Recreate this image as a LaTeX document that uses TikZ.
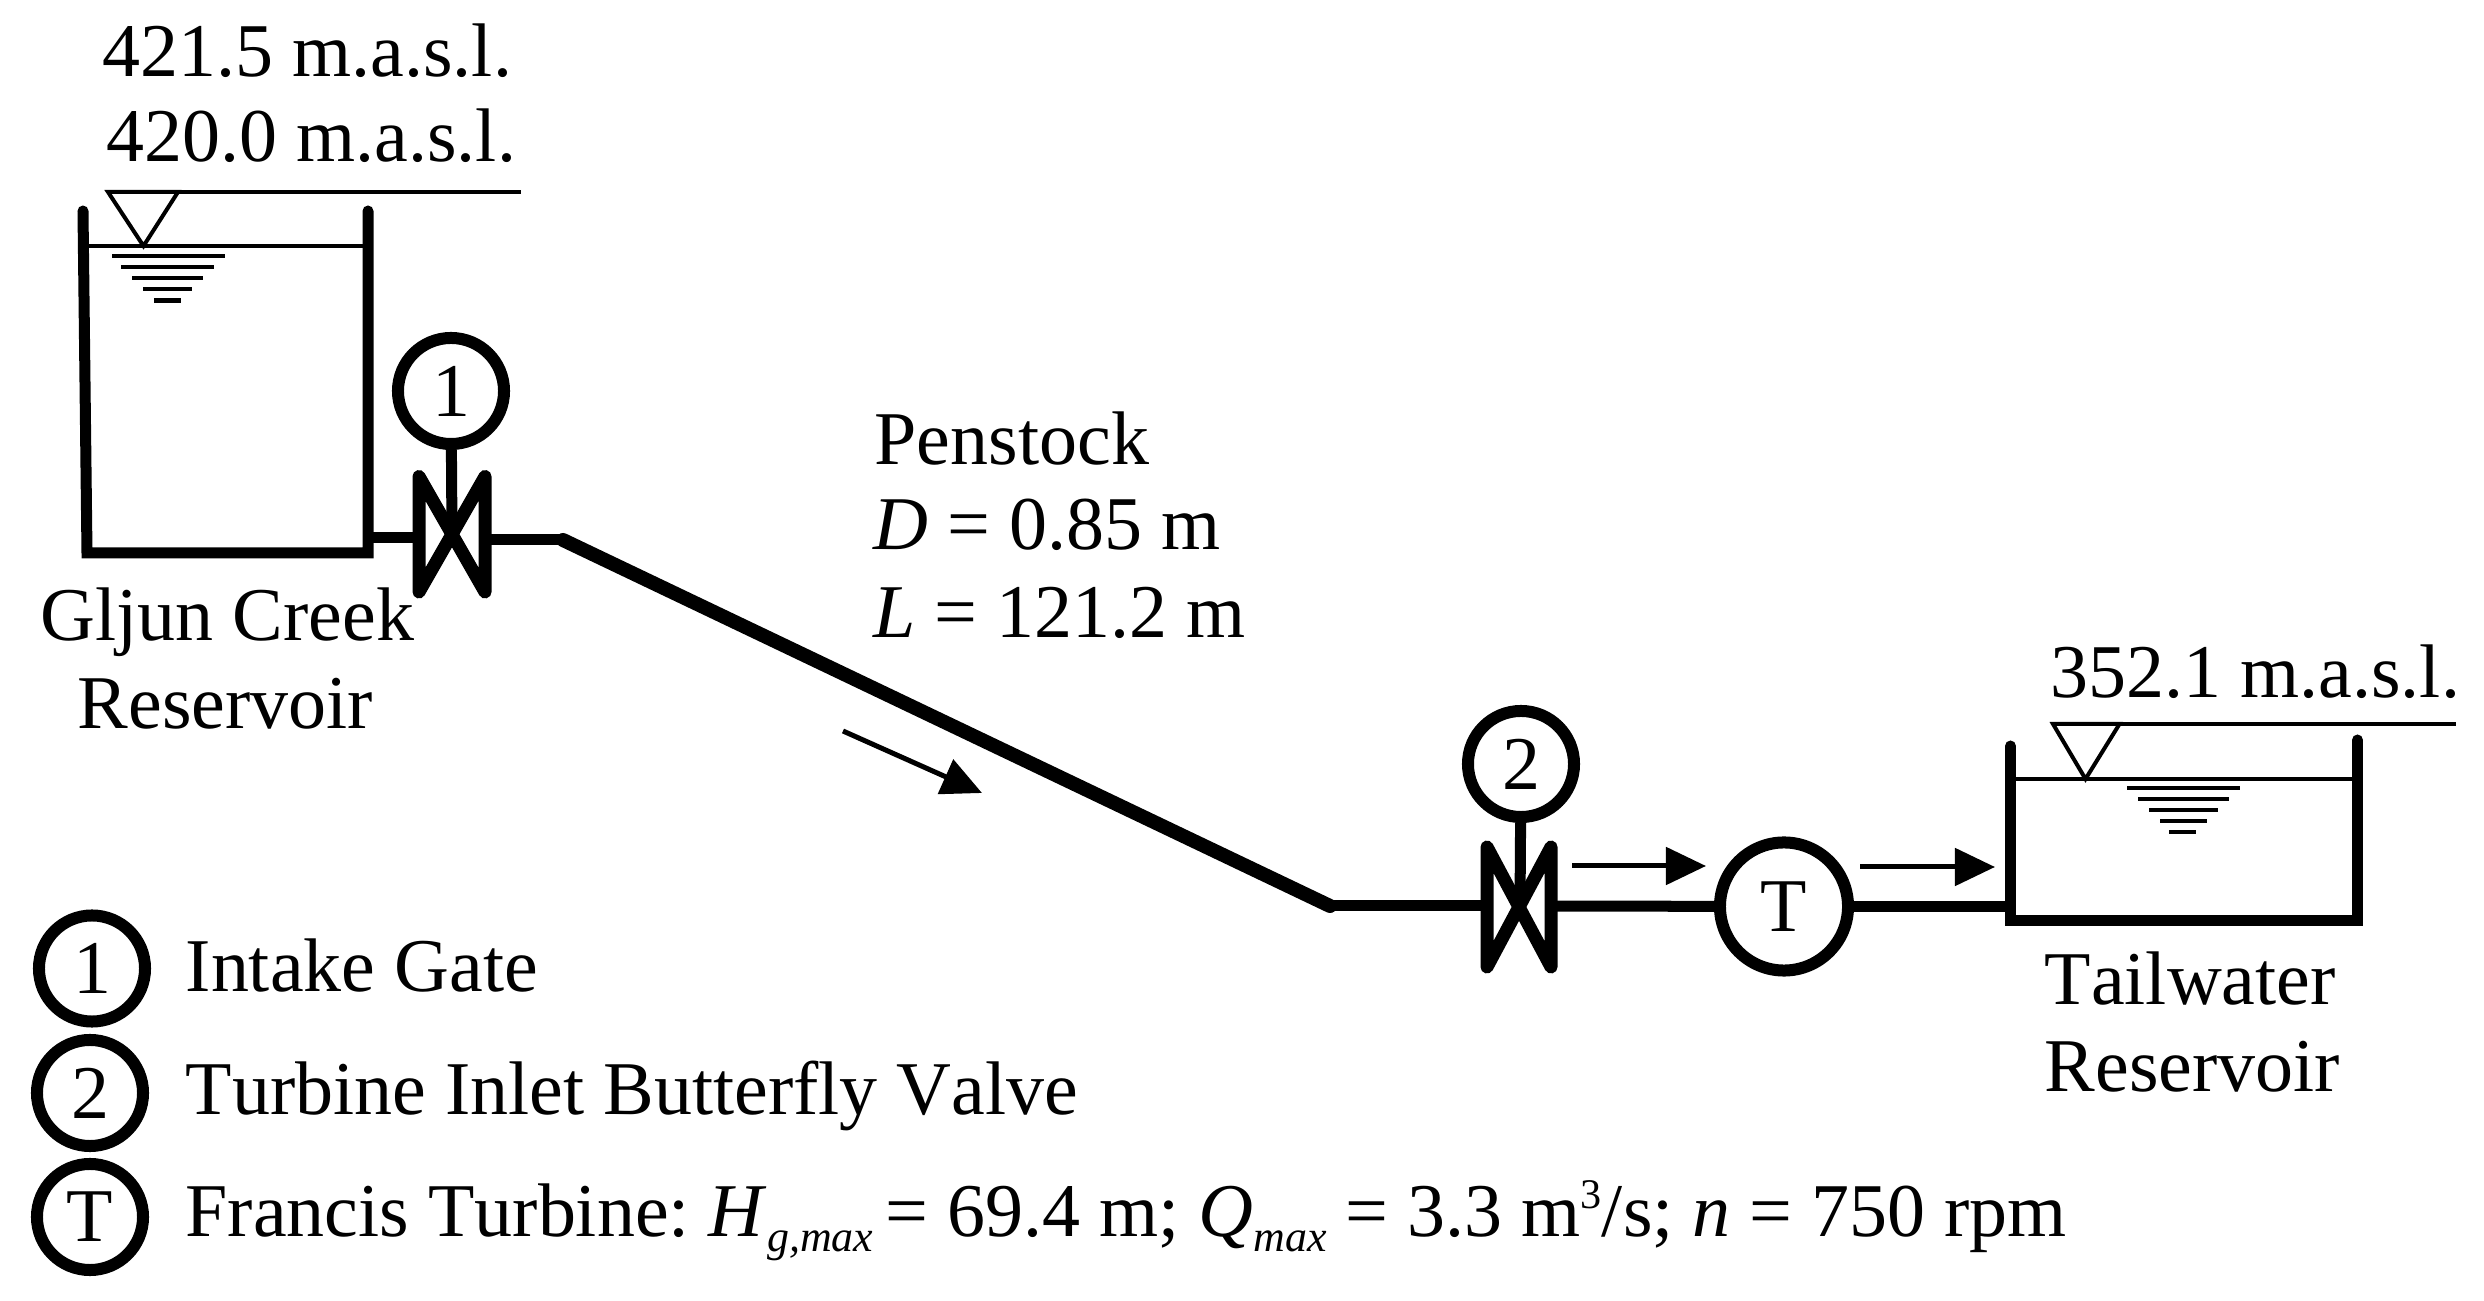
\documentclass[tikz,border=0pt]{standalone}
\usepackage{fontspec}
\setmainfont[Kerning=Off]{Liberation Serif}
\usetikzlibrary{arrows.meta}
\newcommand{\lowtext}[1]{\raisebox{-4pt}{\fontsize{12.5}{14}\selectfont\textit{#1}}}
\newcommand{\hightext}[1]{\raisebox{8pt}{\fontsize{12}{14}\selectfont #1}}
\begin{document}
\begin{tikzpicture}[x=0.01cm, y=-0.01cm,
  wall/.style={line width=0.11cm, line cap=round, line join=miter},
  pipe/.style={line width=0.11cm},
  slope/.style={line width=0.14cm, line cap=round},
  bowtie/.style={line width=0.13cm, line join=round},
  level/.style={line width=0.04cm},
  ripple/.style={line width=0.045cm},
  flow/.style={line width=0.05cm, -{Triangle[length=0.4cm, width=0.37cm]}},
  marker/.style={circle, draw, line width=0.12cm, minimum size=1.06cm,
    inner sep=0pt, font=\fontsize{21.6}{26}\selectfont},
  lbl/.style={anchor=base west, inner sep=0pt, font=\fontsize{21.6}{26}\selectfont}]
\useasboundingbox (0, 0) rectangle (2484, 1301);

\node[lbl] (crest) at (102, 77) {421.5 m.a.s.l.};
\node[lbl] (upper) at (106, 162) {420.0 m.a.s.l.};
\draw[level] (108, 192) -- (143.5, 246) -- (178, 192) -- cycle;
\draw[level] (108, 192) -- (521, 192);
\draw[level] (85, 246) -- (368, 246);
\foreach \y/\a/\b in {256/112/225, 267/121/214, 278/132/203,
  289/143/192, 300.5/154/181} {
  \draw[ripple] (\a, \y) -- (\b, \y);
}
\draw[wall] (83, 211) -- (87, 553) -- (368, 553) -- (368, 211);
\node[lbl] (gljun) at (40, 641) {Gljun Creek};
\node[lbl] (gljunres) at (77, 729) {Reservoir};

\node[marker] (gate) at (451, 391) {1};
\coordinate (gatecross) at (452, 534);
\coordinate (gateleft) at (419, 538);
\coordinate (gateright) at (485, 540);
\coordinate (bendtop) at (563, 540);
\coordinate (bendlow) at (1330, 906);
\draw[pipe] (gate) -- (gatecross);
\draw[bowtie] (419, 476.5) -- (485, 592) -- (485, 476.5) -- (419, 592) -- cycle;
\draw[pipe] (368, 538) -- (gateleft);
\draw[pipe] (gateright) -- (bendtop);
\draw[slope] (bendtop) -- (bendlow);
\draw[pipe] (1328, 906) -- (1487, 906);

\node[lbl] (penstock) at (874, 465) {Penstock};
\node[lbl] (diam) at (873, 550) {\textit{D} = 0.85 m};
\node[lbl] (len) at (873, 638) {\textit{L} = 121.2 m};
\coordinate (downa) at (843, 731);
\coordinate (downb) at (982, 793);
\draw[flow] (downa) -- (downb);

\node[marker] (valve) at (1521, 764) {2};
\coordinate (valvecross) at (1520, 907);
\coordinate (valveright) at (1551, 906);
\node[marker, minimum size=1.28cm] (turbine) at (1784, 906.5) {T};
\draw[pipe] (valve) -- (valvecross);
\draw[bowtie] (1487, 847) -- (1551, 967) -- (1551, 847) -- (1487, 967) -- cycle;
\draw[pipe] (valveright) -- (turbine);
\draw[pipe] (turbine) -- (2010, 906.5);

\coordinate (flowa) at (1572, 866);
\coordinate (flowb) at (1706, 866);
\coordinate (flowc) at (1860, 867);
\coordinate (flowd) at (1995, 867);
\draw[flow] (flowa) -- (flowb);
\draw[flow] (flowc) -- (flowd);

\node[lbl] (tail) at (2050, 698) {352.1 m.a.s.l.};
\draw[level] (2053, 724) -- (2085.5, 779) -- (2119.5, 724) -- cycle;
\draw[level] (2053, 724) -- (2455.6, 724);
\draw[level] (2010, 779) -- (2357, 779);
\foreach \y/\a/\b in {788/2127/2240, 799/2138/2229, 810/2149/2218,
  821/2160/2207, 832/2169/2196} {
  \draw[ripple] (\a, \y) -- (\b, \y);
}
\draw[wall] (2010.5, 746) -- (2010.5, 921) -- (2357.5, 921) -- (2357.5, 740);
\node[lbl] (tailname) at (2044, 1005) {Tailwater};
\node[lbl] (tailres) at (2044, 1092) {Reservoir};

\node[marker] (keygate) at (92, 968.5) {1};
\node[marker] (keyvalve) at (90, 1093) {2};
\node[marker] (keyturbine) at (90, 1217) {T};
\node[lbl] (textgate) at (185, 992) {Intake Gate};
\node[lbl] (textvalve) at (185, 1115) {Turbine Inlet Butterfly Valve};
\node[lbl] (textturbine) at (185, 1237) {Francis Turbine:\hspace{-1.8pt} \textit{H}\lowtext{g,max}\hspace{-1.8pt} = 69.4 m;
  \textit{Q}\lowtext{max} = 3.3 m\hightext{3}/s; \textit{n} = 750 rpm};
\end{tikzpicture}
\end{document}
